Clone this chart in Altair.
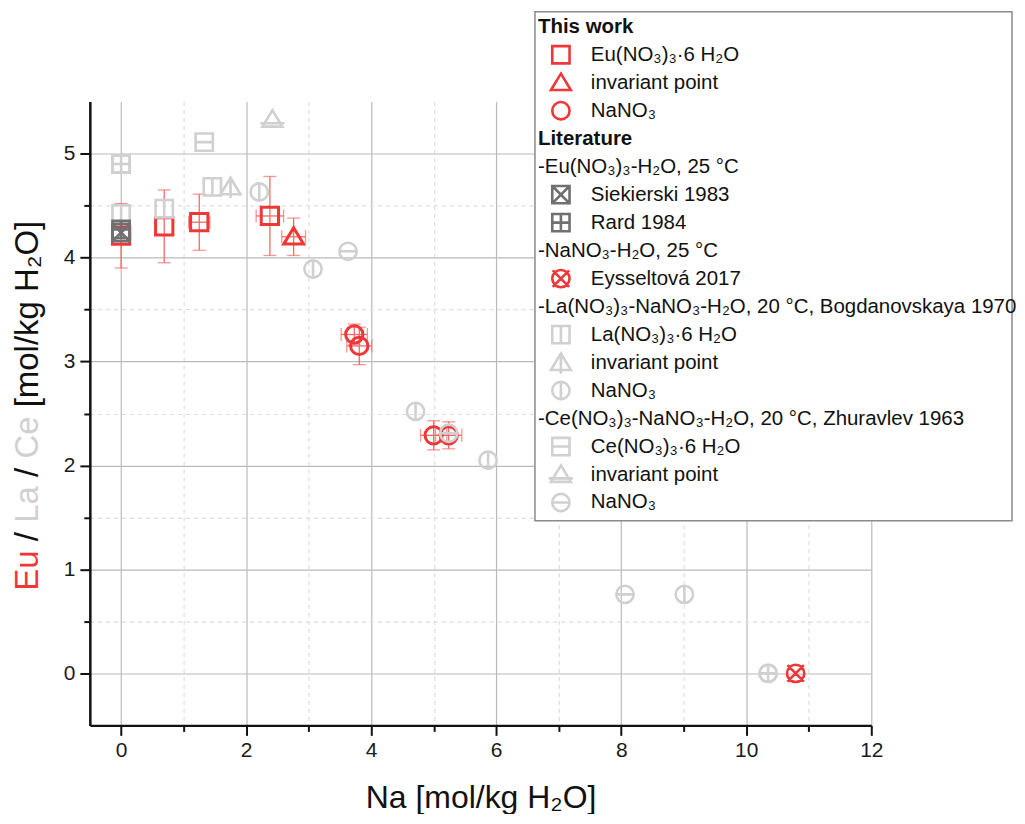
import altair as alt
import pandas as pd

# ---------------- data ----------------
# This work: Eu(NO3)3-NaNO3-H2O
eu_hyd_x = [0.00, 0.69, 1.25, 2.38]
eu_hyd_y = [4.21, 4.30, 4.34, 4.40]
eu_hyd_xerr = [0.00, 0.00, 0.17, 0.22]
eu_hyd_yerr = [0.31, 0.35, 0.27, 0.38]

eu_inv_x = [2.76]
eu_inv_y = [4.20]
eu_inv_xerr = [0.19]
eu_inv_yerr = [0.18]

eu_na_x = [3.73, 3.81, 5.00, 5.24]
eu_na_y = [3.26, 3.15, 2.29, 2.29]
eu_na_xerr = [0.21, 0.20, 0.21, 0.21]
eu_na_yerr = [0.10, 0.18, 0.14, 0.13]

# Literature
siek_x = [0.00]
siek_y = [4.24]
rard_x = [0.00]
rard_y = [4.27]
eyss_x = [10.79]
eyss_y = [0.00]
la_hyd_x = [0.00, 0.00, 0.69, 1.46]
la_hyd_y = [4.90, 4.42, 4.47, 4.68]
la_inv_x = [1.75]
la_inv_y = [4.68]
la_na_x = [2.21, 3.07, 4.71, 5.87, 9.01, 10.35]
la_na_y = [4.63, 3.89, 2.52, 2.05, 0.76, 0.00]
ce_hyd_x = [0.00, 1.33]
ce_hyd_y = [4.90, 5.11]
ce_inv_x = [2.42]
ce_inv_y = [5.33]
ce_na_x = [3.63, 5.24, 8.06, 10.35]
ce_na_y = [4.06, 2.31, 0.76, 0.00]

legend_labels = [
    "This work",
    "Eu(NO₃)₃·6 H₂O",
    "invariant point",
    "NaNO₃",
    "Literature",
    "-Eu(NO₃)₃-H₂O, 25 °C",
    "Siekierski 1983",
    "Rard 1984",
    "-NaNO₃-H₂O, 25 °C",
    "Eysseltová 2017",
    "-La(NO₃)₃-NaNO₃-H₂O, 20 °C, Bogdanovskaya 1970",
    "La(NO₃)₃·6 H₂O",
    "invariant point",
    "NaNO₃",
    "-Ce(NO₃)₃-NaNO₃-H₂O, 20 °C, Zhuravlev 1963",
    "Ce(NO₃)₃·6 H₂O",
    "invariant point",
    "NaNO₃",
]
legend_kinds = ["header", "item", "item", "item", "header", "group", "item", "item",
                "group", "item", "group", "item", "item", "item", "group", "item",
                "item", "item"]
legend_series = ["", "eu_hyd", "eu_inv", "eu_na", "", "", "siek", "rard", "", "eyss",
                 "", "la_hyd", "la_inv", "la_na", "", "ce_hyd", "ce_inv", "ce_na"]

# ---------------- styles ----------------
RED = "#ef3737"
ERR = "#f26a6a"
LIGHT = "#d0d0d0"
DARK = "#707070"
FONT = "Liberation Sans"

SQ = "M-1,-1H1V1H-1Z"
TRI = "M0,-1.05L1.15,0.85L-1.15,0.85Z"
CIRC = "M1,0A1,1,0,1,1,-1,0A1,1,0,1,1,1,0Z"
series_keys = ["eu_hyd", "eu_inv", "eu_na", "siek", "rard", "eyss",
               "la_hyd", "la_inv", "la_na", "ce_hyd", "ce_inv", "ce_na"]
series_shapes = [
    SQ, TRI, CIRC,
    SQ + "M-1,-1L1,1M1,-1L-1,1",
    SQ + "M0,-1V1M-1,0H1",
    CIRC + "M-0.95,-0.95L0.95,0.95M0.95,-0.95L-0.95,0.95",
    SQ + "M0,-1V1",
    TRI + "M0,-1.05V1.3",
    CIRC + "M0,-1V1",
    SQ + "M-1,0H1",
    TRI + "M-1.4,0.45H1.4",
    CIRC + "M-1,0H1",
]
series_colors = [RED, RED, RED, DARK, DARK, RED,
                 LIGHT, LIGHT, LIGHT, LIGHT, LIGHT, LIGHT]

shape_scale = alt.Scale(domain=series_keys, range=series_shapes)
color_scale = alt.Scale(domain=series_keys, range=series_colors)

# ---------------- tables ----------------
tw_rows = []
for key, xs, ys, xe, ye in [
    ("eu_hyd", eu_hyd_x, eu_hyd_y, eu_hyd_xerr, eu_hyd_yerr),
    ("eu_inv", eu_inv_x, eu_inv_y, eu_inv_xerr, eu_inv_yerr),
    ("eu_na", eu_na_x, eu_na_y, eu_na_xerr, eu_na_yerr),
]:
    for a, b, c, d in zip(xs, ys, xe, ye):
        tw_rows.append({"s": key, "x": a, "y": b, "xerr": c, "yerr": d})
tw = pd.DataFrame(tw_rows)
tw["xlo"] = tw["x"] - tw["xerr"]
tw["xhi"] = tw["x"] + tw["xerr"]
tw["ylo"] = tw["y"] - tw["yerr"]
tw["yhi"] = tw["y"] + tw["yerr"]

lit_rows = []
for key, xs, ys in [
    ("la_hyd", la_hyd_x, la_hyd_y), ("ce_hyd", ce_hyd_x, ce_hyd_y),
    ("la_inv", la_inv_x, la_inv_y), ("ce_inv", ce_inv_x, ce_inv_y),
    ("la_na", la_na_x, la_na_y), ("ce_na", ce_na_x, ce_na_y),
    ("siek", siek_x, siek_y), ("rard", rard_x, rard_y), ("eyss", eyss_x, eyss_y),
]:
    for a, b in zip(xs, ys):
        lit_rows.append({"s": key, "x": a, "y": b})
lit = pd.DataFrame(lit_rows)

# legend layout (pixels relative to plot origin)
ROW0, ROWH = -75.0, 28.04
leg = pd.DataFrame({"label": legend_labels, "kind": legend_kinds, "s": legend_series})
leg["py"] = [ROW0 + i * ROWH for i in range(len(leg))]

# ---------------- scales / axes ----------------
xscale = alt.Scale(domain=[-0.5, 12], nice=False, zero=False)
yscale = alt.Scale(domain=[-0.5, 5.5], nice=False, zero=False)

xaxis = alt.Axis(
    values=list(range(0, 13)),
    labelExpr="datum.value % 2 === 0 ? format(datum.value, 'd') : ''",
    title="Na [mol/kg H₂O]",
    titleFontSize=32, titleFontWeight="normal", titleFont=FONT, titleColor="#111",
    titlePadding=22,
    labelFontSize=21, labelFont=FONT, labelColor="#1a1a1a", labelPadding=4,
    tickSize={"condition": {"test": "datum.value % 2 === 0", "value": 10}, "value": 6},
    tickColor="#111", tickWidth=2,
    domainColor="#111", domainWidth=2.5,
    grid=True,
    gridColor={"condition": {"test": "datum.value % 2 === 0", "value": "#bababa"}, "value": "#dedede"},
    gridDash={"condition": {"test": "datum.value % 2 === 0", "value": []}, "value": [4, 4]},
    gridWidth=1.2,
    labelFlush=False,
)
yaxis = alt.Axis(
    values=[0, 0.5, 1, 1.5, 2, 2.5, 3, 3.5, 4, 4.5, 5],
    labelExpr="datum.value % 1 === 0 ? format(datum.value, 'd') : ''",
    title=None,
    labelFontSize=21, labelFont=FONT, labelColor="#1a1a1a", labelPadding=5,
    tickSize={"condition": {"test": "datum.value % 1 === 0", "value": 10}, "value": 6},
    tickColor="#111", tickWidth=2,
    domainColor="#111", domainWidth=2.5,
    grid=True,
    gridColor={"condition": {"test": "datum.value % 1 === 0", "value": "#bababa"}, "value": "#dedede"},
    gridDash={"condition": {"test": "datum.value % 1 === 0", "value": []}, "value": [4, 4]},
    gridWidth=1.2,
    labelFlush=False,
)


def X(f):
    return alt.X(f, type="quantitative", scale=xscale, axis=xaxis)


def Y(f):
    return alt.Y(f, type="quantitative", scale=yscale, axis=yaxis)


shape_enc = alt.Shape("s:N", scale=shape_scale, legend=None)
color_enc = alt.Color("s:N", scale=color_scale, legend=None)

base_tw = alt.Chart(tw)
yerr_df = base_tw.transform_filter("datum.yerr > 0")
xerr_df = base_tw.transform_filter("datum.xerr > 0")

yerr_rule = yerr_df.mark_rule(color=ERR, strokeWidth=1.3).encode(x=X("x"), y=Y("ylo"), y2="yhi")
yerr_lo = yerr_df.mark_tick(orient="horizontal", color=ERR, size=13, thickness=1.3).encode(x=X("x"), y=Y("ylo"))
yerr_hi = yerr_df.mark_tick(orient="horizontal", color=ERR, size=13, thickness=1.3).encode(x=X("x"), y=Y("yhi"))
xerr_rule = xerr_df.mark_rule(color=ERR, strokeWidth=1.3).encode(x=X("xlo"), x2="xhi", y=Y("y"))
xerr_lo = xerr_df.mark_tick(orient="vertical", color=ERR, size=13, thickness=1.3).encode(x=X("xlo"), y=Y("y"))
xerr_hi = xerr_df.mark_tick(orient="vertical", color=ERR, size=13, thickness=1.3).encode(x=X("xhi"), y=Y("y"))

tw_pts = base_tw.mark_point(filled=False, size=300, strokeWidth=3, opacity=1).encode(
    x=X("x"), y=Y("y"), shape=shape_enc, color=color_enc)
lit_pts = alt.Chart(lit).mark_point(filled=False, size=300, strokeWidth=2.6, opacity=1).encode(
    x=X("x"), y=Y("y"), shape=shape_enc, color=color_enc)

main = alt.layer(yerr_rule, yerr_lo, yerr_hi, xerr_rule, xerr_lo, xerr_hi, tw_pts, lit_pts)

# ---------------- legend box ----------------
one = alt.Data(values=[{"a": 1}])
box = alt.Chart(one).mark_rect(fill="white", stroke="#8a8a8a", strokeWidth=1.5).encode(
    x=alt.value(446), x2=alt.value(924), y=alt.value(-90), y2=alt.value(420))

LFS = 20.5
leg_base = alt.Chart(leg)
PY = alt.Y("py:Q", scale=None, axis=None)
leg_sym = leg_base.transform_filter("datum.kind === 'item'").mark_point(
    filled=False, size=300, strokeWidth=2.6, opacity=1).encode(
    x=alt.value(472), y=PY, shape=shape_enc, color=color_enc)
leg_item_txt = leg_base.transform_filter("datum.kind === 'item'").mark_text(
    align="left", baseline="middle", font=FONT, fontSize=LFS, color="#111").encode(
    x=alt.value(502), y=PY, text="label:N")
leg_group_txt = leg_base.transform_filter("datum.kind === 'group'").mark_text(
    align="left", baseline="middle", font=FONT, fontSize=LFS, color="#111").encode(
    x=alt.value(449), y=PY, text="label:N")
leg_head_txt = leg_base.transform_filter("datum.kind === 'header'").mark_text(
    align="left", baseline="middle", font=FONT, fontSize=LFS, fontWeight="bold", color="#111").encode(
    x=alt.value(449), y=PY, text="label:N")

legend = alt.layer(box, leg_sym, leg_item_txt, leg_group_txt, leg_head_txt)

# ---------------- multi-coloured y title ----------------
TFS = 33
title_parts = [("Eu", RED, 490.0), ("/", "#111", 440.4), ("La", LIGHT, 422.0),
               ("/", "#111", 376.1), ("Ce", LIGHT, 357.7), ("[mol/kg H₂O]", "#111", 306.3)]
title_layers = []
for txt, col, pos in title_parts:
    title_layers.append(
        alt.Chart(one).mark_text(angle=270, align="left", baseline="middle", font=FONT,
                                 fontSize=TFS, color=col).encode(
            x=alt.value(-62), y=alt.value(pos), text=alt.value(txt)))

chart = alt.layer(main, legend, *title_layers).resolve_scale(
    x="independent", y="independent"
).properties(
    width=783, height=625,
    padding={"left": 4, "top": 2, "right": 0, "bottom": 0},
).configure_view(stroke=None)

chart.save("out.html", embed_options={"renderer": "svg", "actions": False})
